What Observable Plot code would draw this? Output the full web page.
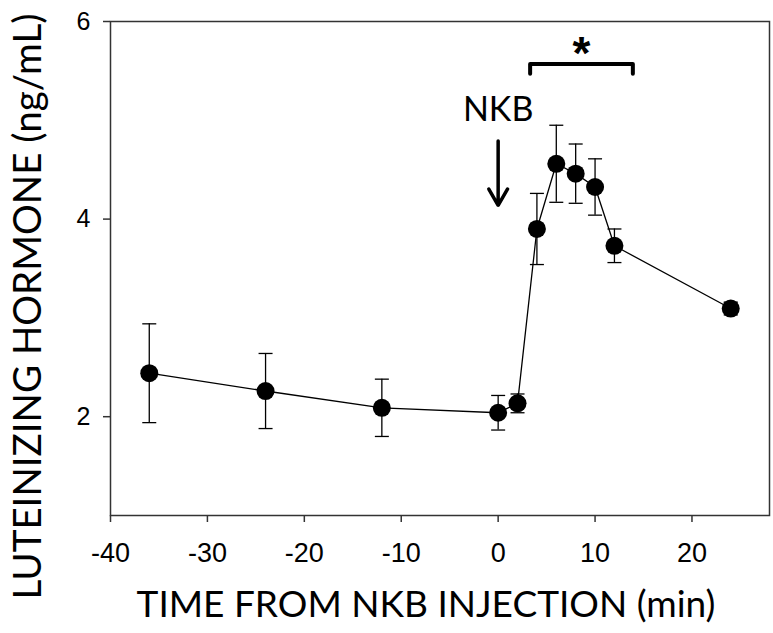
<!DOCTYPE html>
<html><head><meta charset="utf-8">
<script src="https://cdn.jsdelivr.net/npm/d3@7"></script>
<script src="https://cdn.jsdelivr.net/npm/@observablehq/plot@0.6"></script>
<style>body{margin:0;background:#fff}</style>
</head><body><div id="chart"></div>
<script>
// Data
const times = [-36, -24, -12, 0, 2, 4, 6, 8, 10, 12, 24];
const lh    = [2.44, 2.26, 2.09, 2.04, 2.135, 3.90, 4.56, 4.46, 4.325, 3.73, 3.095];
const sem   = [0.50, 0.38, 0.29, 0.175, 0.095, 0.36, 0.39, 0.30, 0.285, 0.17, 0.065];
const xTicks = [-40, -30, -20, -10, 0, 10, 20];
const yTicks = [2, 4, 6];
const xLabel = "TIME FROM NKB INJECTION (min)";
const yLabel = "LUTEINIZING HORMONE (ng/mL)";
const injectionLabel = "NKB";
const injectionTime = [0];
const arrowY = [4.79, 4.14];
const labelY = [5.10];
const sigRange = [3.3, 13.9];
const sigY = [5.47, 5.57];
const starY = [5.76];

const data = times.map((t, i) => ({t, v: lh[i], lo: lh[i] - sem[i], hi: lh[i] + sem[i]}));
const bracket = [
  {x: sigRange[0], y: sigY[0]}, {x: sigRange[0], y: sigY[1]},
  {x: sigRange[1], y: sigY[1]}, {x: sigRange[1], y: sigY[0]}
];
const capSymbol = {
  draw(context, size) {
    const w = Math.sqrt(size / Math.PI);
    context.moveTo(-w, 0);
    context.lineTo(w, 0);
  }
};

const chart = Plot.plot({
  width: 773,
  height: 633,
  marginLeft: 110,
  marginTop: 21,
  marginRight: 4,
  marginBottom: 118,
  style: {background: "#fff", color: "#000"},
  x: {domain: [-40, 28]},
  y: {domain: [1, 6]},
  marks: [
    Plot.frame({stroke: "#333", strokeWidth: 1.5}),
    Plot.axisX({ticks: xTicks, tickSize: 7, tickPadding: 20, fontSize: 27, fontFamily: "Liberation Sans, Arial, sans-serif", stroke: "#333", strokeWidth: 1.5, label: null, tickFormat: d => d < 0 ? "-" + Math.abs(d) : String(d)}),
    Plot.axisY({ticks: yTicks, tickSize: 7, tickPadding: 13, fontSize: 25, fontFamily: "Liberation Sans, Arial, sans-serif", stroke: "#333", strokeWidth: 1.5, label: null, tickFormat: d => String(d)}),
    Plot.text([xLabel], {frameAnchor: "bottom", textAnchor: "middle", dx: -14, dy: 90, lineAnchor: "middle", fontSize: 37, fontFamily: "Lato, sans-serif", fill: "#000"}),
    Plot.text([yLabel], {frameAnchor: "left", textAnchor: "middle", rotate: -90, dx: -82, dy: 38, lineAnchor: "middle", fontSize: 38.5, fontFamily: "Lato, sans-serif", fill: "#000"}),
    Plot.line(data, {x: "t", y: "v", stroke: "#000", strokeWidth: 1.3}),
    Plot.ruleX(data, {x: "t", y1: "lo", y2: "hi", stroke: "#000", strokeWidth: 1.3}),
    Plot.dot(data, {x: "t", y: "lo", symbol: capSymbol, r: 7, stroke: "#000", fill: "none", strokeWidth: 1.3}),
    Plot.dot(data, {x: "t", y: "hi", symbol: capSymbol, r: 7, stroke: "#000", fill: "none", strokeWidth: 1.3}),
    Plot.dot(data, {x: "t", y: "v", r: 9, fill: "#000", stroke: "none"}),
    Plot.arrow(injectionTime, {x1: d => d, x2: d => d, y1: arrowY[0], y2: arrowY[1], stroke: "#000", strokeWidth: 3.5, headLength: 8}),
    Plot.text(injectionTime, {x: d => d, y: labelY[0], text: () => injectionLabel, fontSize: 34, fontFamily: "Lato, sans-serif", lineAnchor: "middle", fill: "#000"}),
    Plot.line(bracket, {x: "x", y: "y", stroke: "#000", strokeWidth: 4, strokeLinejoin: "round"}),
    Plot.text([sigRange], {x: d => (d[0] + d[1]) / 2, y: starY[0], text: () => "*", fontSize: 46, fontWeight: "bold", fontFamily: "Liberation Sans, Arial, sans-serif", lineAnchor: "middle", dy: 9, fill: "#000"})
  ]
});
document.getElementById("chart").appendChild(chart);
</script>
</body></html>
